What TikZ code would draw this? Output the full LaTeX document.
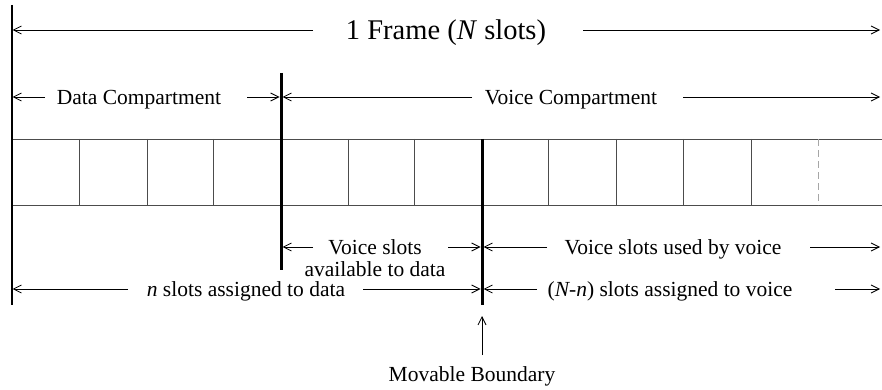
\documentclass[tikz,border=0pt]{standalone}
\usepackage{fontspec}
\setmainfont{Liberation Serif}
\usetikzlibrary{arrows.meta}
\begin{document}
\begin{tikzpicture}[x=1pt,y=-1pt,
  arr/.style={line width=0.9pt,-{Straight Barb[length=8pt,width=8pt,line width=0.8pt]}},
  bar/.style={line width=3pt},
  frameline/.style={line width=1.2pt},
  slot/.style={line width=0.9pt,black!70},
  lab/.style={font=\fontsize{21.5}{22}\selectfont,inner sep=0pt,anchor=base},
  big/.style={font=\fontsize{28.5}{32}\selectfont,inner sep=0pt,anchor=base}]
\useasboundingbox (0,0) rectangle (882,390);

% slot strip
\draw[slot] (12,139) -- (882,139);
\draw[slot] (12,205) -- (882,205);
\foreach \x in {79,147,213,348,414,548,616,683,751}
  \draw[slot] (\x,139) -- (\x,205);
\draw[slot,black!35,dash pattern=on 7pt off 4pt] (818,139) -- (818,205);

% vertical boundaries
\coordinate (L0t) at (12,5);   \coordinate (L0b) at (12,305);
\coordinate (B1t) at (281,73); \coordinate (B1b) at (281,270);
\coordinate (B2t) at (482,139);\coordinate (B2b) at (482,305);
\draw[frameline] (L0t) -- (L0b);
\draw[bar] (B1t) -- (B1b);
\draw[bar] (B2t) -- (B2b);

% row 1: frame
\node[big] (frame) at (446,39.5) {1 Frame (\textit{N} slots)};
\coordinate (r1a) at (313,30); \coordinate (r1l) at (12.6,30);
\coordinate (r1b) at (583,30); \coordinate (r1r) at (880,30);
\draw[arr] (r1a) -- (r1l);
\draw[arr] (r1b) -- (r1r);

% row 2: compartments
\node[lab] (dc) at (139,104.5) {Data Compartment};
\node[lab] (vc) at (571,104.5) {Voice Compartment};
\coordinate (r2a) at (45,97);  \coordinate (r2l) at (12.6,97);
\coordinate (r2b) at (247,97); \coordinate (r2m) at (279.5,97);
\coordinate (r2c) at (472,97); \coordinate (r2n) at (282.5,97);
\coordinate (r2d) at (683,97); \coordinate (r2r) at (880,97);
\draw[arr] (r2a) -- (r2l);
\draw[arr] (r2b) -- (r2m);
\draw[arr] (r2c) -- (r2n);
\draw[arr] (r2d) -- (r2r);

% row 3: voice slots
\node[lab,align=center] (vsa) at (375,276.5) {Voice slots\\available to data};
\node[lab] (vsu) at (673,254.5) {Voice slots used by voice};
\coordinate (r3a) at (313,247); \coordinate (r3l) at (282.5,247);
\coordinate (r3b) at (448,247); \coordinate (r3m) at (480.5,247);
\coordinate (r3c) at (547,247); \coordinate (r3n) at (483.5,247);
\coordinate (r3d) at (810,247); \coordinate (r3r) at (880,247);
\draw[arr] (r3a) -- (r3l);
\draw[arr] (r3b) -- (r3m);
\draw[arr] (r3c) -- (r3n);
\draw[arr] (r3d) -- (r3r);

% row 4: assignment
\node[lab] (nd) at (246,296.5) {\textit{n} slots assigned to data};
\node[lab] (nv) at (670,296.5) {(\textit{N-n}) slots assigned to voice};
\coordinate (r4a) at (128,289); \coordinate (r4l) at (12.6,289);
\coordinate (r4b) at (363,289); \coordinate (r4m) at (480.5,289);
\coordinate (r4c) at (537,289); \coordinate (r4n) at (483.5,289);
\coordinate (r4d) at (835,289); \coordinate (r4r) at (880,289);
\draw[arr] (r4a) -- (r4l);
\draw[arr] (r4b) -- (r4m);
\draw[arr] (r4c) -- (r4n);
\draw[arr] (r4d) -- (r4r);

% movable boundary
\node[lab] (mb) at (472,381) {Movable Boundary};
\coordinate (mba) at (482,355); \coordinate (mbt) at (482,316);
\draw[arr] (mba) -- (mbt);
\end{tikzpicture}
\end{document}
